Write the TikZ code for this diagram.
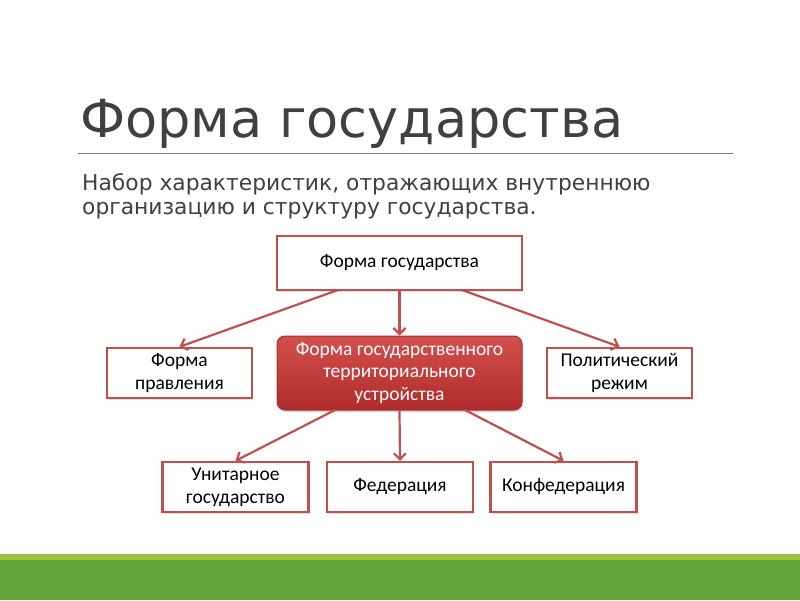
\documentclass[tikz,border=0pt]{standalone}
\usepackage{fontspec}
\setmainfont{DejaVu Sans}
\newfontfamily\boxfont{Carlito}
\usetikzlibrary{arrows.meta,shadows}
\definecolor{redline}{HTML}{C0504D}
\definecolor{boxtop}{HTML}{D2504C}
\definecolor{boxbot}{HTML}{B02C2C}
\definecolor{boxborder}{HTML}{A83230}
\definecolor{titlegray}{HTML}{404040}
\definecolor{lightgreen}{HTML}{9DC33F}
\definecolor{darkgreen}{HTML}{63A538}
\tikzset{
  x=1pt,y=-1pt,
  plainbox/.style={draw=redline,line width=2.4pt,fill=white,align=center,
    font=\boxfont\fontsize{19.5}{23}\selectfont,inner sep=0pt,
    drop shadow={shadow xshift=1pt,shadow yshift=-1.5pt,opacity=0.25}},
  centerbox/.style={draw=boxborder,line width=1pt,rounded corners=8pt,
    top color=boxtop,bottom color=boxbot,align=center,text=white,
    font=\boxfont\fontsize{19.5}{22.5}\selectfont,inner sep=0pt,
    drop shadow={shadow xshift=1pt,shadow yshift=-2pt,opacity=0.3}},
  conn/.style={draw=redline,line width=2.2pt,-{Straight Barb[length=6pt,width=12pt,line width=2.2pt]}}
}
\begin{document}
\begin{tikzpicture}
\useasboundingbox (0,0) rectangle (800,600);
\fill[white] (0,0) rectangle (800,600);
% green bars
\fill[lightgreen] (0,554) rectangle (800,560);
\fill[darkgreen] (0,560) rectangle (800,600);
% title
\node[anchor=base west,inner sep=0pt,text=titlegray,font=\fontsize{52.5}{60}\selectfont] (title) at (80,137) {Форма государства};
\draw[gray,line width=0.8pt] (78,153) -- (733,153);
\node[anchor=base west,inner sep=0pt,text=titlegray,font=\fontsize{21.8}{26}\selectfont] (sub1) at (82,190) {Набор характеристик, отражающих внутреннюю};
\node[anchor=base west,inner sep=0pt,text=titlegray,font=\fontsize{21.8}{26}\selectfont] (sub2) at (82,214) {организацию и структуру государства.};
% boxes
\node[plainbox,minimum width=245pt,minimum height=54pt] (top) at (399.5,263) {Форма государства};
\node[centerbox,minimum width=245pt,minimum height=74pt] (center) at (399.5,373) {Форма государственного\\территориального\\устройства};
\node[plainbox,minimum width=145pt,minimum height=50pt] (left) at (179.5,373) {Форма\\правления};
\node[plainbox,minimum width=145pt,minimum height=50pt] (right) at (619.5,373) {Политический\\режим};
\node[plainbox,minimum width=146pt,minimum height=50pt] (b1) at (235.5,487) {Унитарное\\государство};
\node[plainbox,minimum width=146pt,minimum height=50pt] (b2) at (400,487) {Федерация};
\node[plainbox,minimum width=146pt,minimum height=50pt] (b3) at (563.5,487) {Конфедерация};
% connectors
\coordinate (tl) at (338,290);
\coordinate (tr) at (462,290);
\coordinate (cl) at (335,410);
\coordinate (cr) at (465,410);
\draw[conn] (top.south) -- (center.north);
\draw[conn] (tl) -- (left.north);
\draw[conn] (tr) -- (right.north);
\draw[conn] (center.south) -- (b2.north);
\draw[conn] (cl) -- (b1.north);
\draw[conn] (cr) -- (b3.north);
\end{tikzpicture}
\end{document}
